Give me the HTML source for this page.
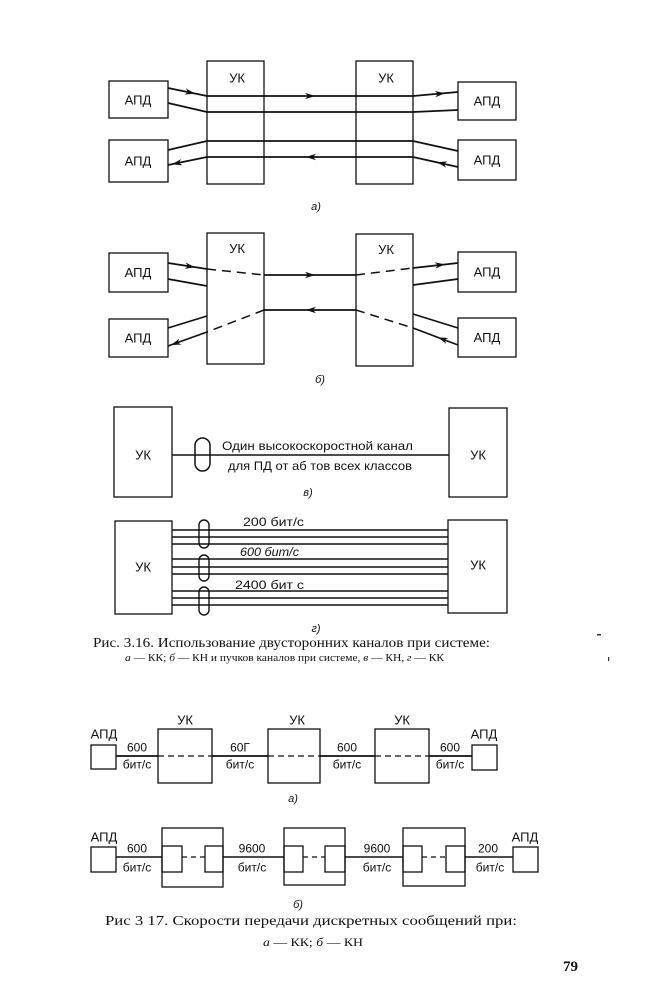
<!DOCTYPE html>
<html><head><meta charset="utf-8">
<style>
html,body{margin:0;padding:0;background:#fff;}
svg{display:block;}
.s{font-family:"Liberation Sans","DejaVu Sans",sans-serif;fill:#111;}
.r{font-family:"Liberation Serif","DejaVu Serif",serif;fill:#111;}
</style></head>
<body>
<svg width="650" height="1000" viewBox="0 0 650 1000" xmlns="http://www.w3.org/2000/svg">
<rect width="650" height="1000" fill="#fff"/>
<defs>
<path id="ah" d="M0,0 L-10,-3.2 L-7,0 L-10,3.2 Z" fill="#111"/>
</defs>

<!-- ===== a) ===== -->
<g fill="none" stroke="#111" stroke-width="1.3">
<rect x="109" y="81" width="59" height="37"/>
<rect x="109" y="140" width="59" height="42"/>
<rect x="207" y="61" width="57" height="123"/>
<rect x="356" y="61" width="57" height="123"/>
<rect x="458" y="82" width="58" height="38"/>
<rect x="458" y="140" width="58" height="40"/>
</g>
<g fill="none" stroke="#111" stroke-width="1.7">
<polyline points="168,88 207,96 413,96 458,92"/>
<polyline points="168,103 207,112 413,112 458,110"/>
<polyline points="168,150 207,141 413,141 458,151"/>
<polyline points="168,165 207,157 413,157 458,167"/>
</g>
<use href="#ah" transform="translate(195,93.5) rotate(11.6)"/>
<use href="#ah" transform="translate(315,96)"/>
<use href="#ah" transform="translate(445,93.2) rotate(-5)"/>
<use href="#ah" transform="translate(172,164.2) rotate(168.4)"/>
<use href="#ah" transform="translate(306,157) rotate(180)"/>
<use href="#ah" transform="translate(437,162.3) rotate(192.5)"/>
<g class="s" font-size="13" text-anchor="middle">
<text x="138" y="104.5">АПД</text>
<text x="138" y="165.5">АПД</text>
<text x="487" y="105.5">АПД</text>
<text x="487" y="164.5">АПД</text>
<text x="237" y="82.5">УК</text>
<text x="386" y="82.5">УК</text>
</g>
<text class="s" x="316" y="210" font-size="11" font-style="italic" text-anchor="middle">а)</text>

<!-- ===== б) ===== -->
<g fill="none" stroke="#111" stroke-width="1.3">
<rect x="109" y="253" width="59" height="39"/>
<rect x="109" y="319" width="59" height="38"/>
<rect x="207" y="233" width="57" height="131"/>
<rect x="356" y="234" width="57" height="132"/>
<rect x="458" y="252" width="58" height="40"/>
<rect x="458" y="318" width="58" height="39"/>
</g>
<g fill="none" stroke="#111" stroke-width="1.7">
<line x1="168" y1="263" x2="207" y2="269"/>
<line x1="264" y1="275" x2="356" y2="275"/>
<line x1="413" y1="268" x2="458" y2="263"/>
<line x1="168" y1="279" x2="207" y2="286"/>
<line x1="413" y1="285" x2="458" y2="279"/>
<line x1="207" y1="316" x2="168" y2="328"/>
<line x1="458" y1="328" x2="413" y2="314"/>
<line x1="207" y1="332" x2="168" y2="346"/>
<line x1="264" y1="310" x2="356" y2="310"/>
<line x1="413" y1="328" x2="458" y2="345"/>
</g>
<g fill="none" stroke="#111" stroke-width="1.5" stroke-dasharray="9,6">
<line x1="207" y1="269" x2="264" y2="275"/>
<line x1="356" y1="275" x2="413" y2="268"/>
<line x1="264" y1="310" x2="207" y2="332"/>
<line x1="356" y1="310" x2="413" y2="328"/>
</g>
<use href="#ah" transform="translate(195,267.2) rotate(8.7)"/>
<use href="#ah" transform="translate(315,275)"/>
<use href="#ah" transform="translate(445,264.4) rotate(-6.3)"/>
<use href="#ah" transform="translate(171,345) rotate(160.3)"/>
<use href="#ah" transform="translate(306,310) rotate(180)"/>
<use href="#ah" transform="translate(438,337.4) rotate(200.7)"/>
<g class="s" font-size="13" text-anchor="middle">
<text x="138" y="277">АПД</text>
<text x="138" y="342.5">АПД</text>
<text x="487" y="276.5">АПД</text>
<text x="487" y="342">АПД</text>
<text x="237" y="253">УК</text>
<text x="386" y="254">УК</text>
</g>
<text class="s" x="320" y="383" font-size="11" font-style="italic" text-anchor="middle">б)</text>

<!-- ===== в) ===== -->
<g fill="none" stroke="#111" stroke-width="1.3">
<rect x="114" y="407" width="58" height="90"/>
<rect x="449" y="408" width="58" height="89"/>
<rect x="195" y="438" width="15" height="33" rx="7.5" ry="7.5" stroke-width="1.5"/>
</g>
<line x1="172" y1="455" x2="449" y2="455" stroke="#111" stroke-width="1.6"/>
<g class="s" font-size="13" text-anchor="middle">
<text x="143" y="459.5">УК</text>
<text x="478" y="459.5">УК</text>
</g>
<text class="s" x="222" y="450" font-size="12" textLength="191" lengthAdjust="spacingAndGlyphs">Один высокоскоростной канал</text>
<text class="s" x="228" y="470" font-size="12" textLength="184" lengthAdjust="spacingAndGlyphs">для ПД от аб тов всех классов</text>
<text class="s" x="308" y="496" font-size="11" font-style="italic" text-anchor="middle">в)</text>

<!-- ===== г) ===== -->
<g fill="none" stroke="#111" stroke-width="1.3">
<rect x="115" y="521" width="57" height="93"/>
<rect x="448" y="520" width="59" height="93"/>
</g>
<g stroke="#111" stroke-width="1.4">
<line x1="172" y1="530" x2="448" y2="530"/>
<line x1="172" y1="537" x2="448" y2="537"/>
<line x1="172" y1="544" x2="448" y2="544"/>
<line x1="172" y1="559" x2="448" y2="559"/>
<line x1="172" y1="567" x2="448" y2="567"/>
<line x1="172" y1="574" x2="448" y2="574"/>
<line x1="172" y1="591" x2="448" y2="591"/>
<line x1="172" y1="598" x2="448" y2="598"/>
<line x1="172" y1="605" x2="448" y2="605"/>
</g>
<g fill="none" stroke="#111" stroke-width="1.4">
<rect x="199" y="520" width="10" height="28" rx="5" ry="5"/>
<rect x="199" y="555" width="10" height="26" rx="5" ry="5"/>
<rect x="199" y="587" width="10" height="28" rx="5" ry="5"/>
</g>
<g class="s" font-size="12">
<text x="243" y="526" textLength="61" lengthAdjust="spacingAndGlyphs">200 бит/с</text>
<text x="240" y="556" textLength="59" lengthAdjust="spacingAndGlyphs" font-style="italic">600 бит/с</text>
<text x="235" y="589" textLength="69" lengthAdjust="spacingAndGlyphs">2400 бит с</text>
</g>
<g class="s" font-size="13" text-anchor="middle">
<text x="143" y="571.5">УК</text>
<text x="478" y="569.5">УК</text>
</g>
<text class="s" x="316" y="632" font-size="11" font-style="italic" text-anchor="middle">г)</text>

<!-- Caption 3.16 -->
<text class="r" x="93" y="647" font-size="14" textLength="397" lengthAdjust="spacingAndGlyphs">Рис. 3.16. Использование двусторонних каналов при системе:</text>
<text class="r" x="125" y="661" font-size="11" textLength="319" lengthAdjust="spacingAndGlyphs"><tspan font-style="italic">а</tspan> — КК; <tspan font-style="italic">б</tspan> — КН и пучков каналов при системе, <tspan font-style="italic">в</tspan> — КН, <tspan font-style="italic">г</tspan> — КК</text>
<rect x="597" y="634" width="4" height="1.5" fill="#333"/>
<rect x="608" y="657" width="1.2" height="4" fill="#333"/>

<!-- ===== 3.17 a) ===== -->
<g fill="none" stroke="#111" stroke-width="1.3">
<rect x="91" y="745" width="25" height="24"/>
<rect x="158" y="729" width="54" height="54"/>
<rect x="268" y="729" width="52" height="54"/>
<rect x="375" y="729" width="54" height="54"/>
<rect x="472" y="745" width="25" height="25"/>
</g>
<g stroke="#111" stroke-width="1.7">
<line x1="116" y1="756" x2="158" y2="756"/>
<line x1="212" y1="756" x2="268" y2="756"/>
<line x1="320" y1="756" x2="375" y2="756"/>
<line x1="429" y1="756" x2="472" y2="756"/>
</g>
<g stroke="#111" stroke-width="1.3" stroke-dasharray="6,4">
<line x1="158" y1="756" x2="212" y2="756"/>
<line x1="268" y1="756" x2="320" y2="756"/>
<line x1="375" y1="756" x2="429" y2="756"/>
</g>
<g class="s" font-size="13" text-anchor="middle">
<text x="104" y="738.5">АПД</text>
<text x="484" y="738.5">АПД</text>
<text x="185" y="724.5">УК</text>
<text x="297" y="724.5">УК</text>
<text x="402" y="724.5">УК</text>
</g>
<g class="s" font-size="12" text-anchor="middle">
<text x="137" y="751.5">600</text>
<text x="240" y="751.5">60Г</text>
<text x="347" y="751.5">600</text>
<text x="450" y="751.5">600</text>
<text x="137" y="768.5">бит/с</text>
<text x="240" y="768.5">бит/с</text>
<text x="347" y="768.5">бит/с</text>
<text x="450" y="768.5">бит/с</text>
</g>
<text class="s" x="293" y="802" font-size="11" font-style="italic" text-anchor="middle">а)</text>

<!-- ===== 3.17 б) ===== -->
<g fill="none" stroke="#111" stroke-width="1.3">
<rect x="91" y="847" width="25" height="25"/>
<rect x="162" y="828" width="61" height="59"/>
<rect x="162" y="846" width="20" height="26"/>
<rect x="205" y="846" width="18" height="26"/>
<rect x="284" y="828" width="61" height="57"/>
<rect x="284" y="846" width="19" height="26"/>
<rect x="325" y="846" width="20" height="26"/>
<rect x="403" y="828" width="62" height="58"/>
<rect x="403" y="846" width="19" height="26"/>
<rect x="446" y="846" width="19" height="26"/>
<rect x="513" y="847" width="25" height="25"/>
</g>
<g stroke="#111" stroke-width="1.6">
<line x1="116" y1="857" x2="162" y2="857"/>
<line x1="223" y1="857" x2="284" y2="857"/>
<line x1="345" y1="857" x2="403" y2="857"/>
<line x1="465" y1="857" x2="513" y2="857"/>
</g>
<g stroke="#111" stroke-width="1.3" stroke-dasharray="5,4">
<line x1="182" y1="857" x2="205" y2="857"/>
<line x1="303" y1="857" x2="325" y2="857"/>
<line x1="422" y1="857" x2="446" y2="857"/>
</g>
<g class="s" font-size="13" text-anchor="middle">
<text x="104" y="841.5">АПД</text>
<text x="525" y="841.5">АПД</text>
</g>
<g class="s" font-size="12" text-anchor="middle">
<text x="137" y="852.5">600</text>
<text x="252" y="852.5">9600</text>
<text x="377" y="852.5">9600</text>
<text x="488" y="852.5">200</text>
<text x="137" y="871.5">бит/с</text>
<text x="252" y="871.5">бит/с</text>
<text x="377" y="871.5">бит/с</text>
<text x="490" y="871.5">бит/с</text>
</g>
<text class="s" x="298" y="908" font-size="11" font-style="italic" text-anchor="middle">б)</text>

<!-- Caption 3.17 -->
<text class="r" x="105" y="925" font-size="14" textLength="412" lengthAdjust="spacingAndGlyphs">Рис 3 17. Скорости передачи дискретных сообщений при:</text>
<text class="r" x="263" y="946" font-size="11.5" textLength="100" lengthAdjust="spacingAndGlyphs"><tspan font-style="italic">а</tspan> — КК; <tspan font-style="italic">б</tspan> — КН</text>

<text class="r" x="563" y="971" font-size="15" font-weight="bold">79</text>
</svg>
</body></html>
